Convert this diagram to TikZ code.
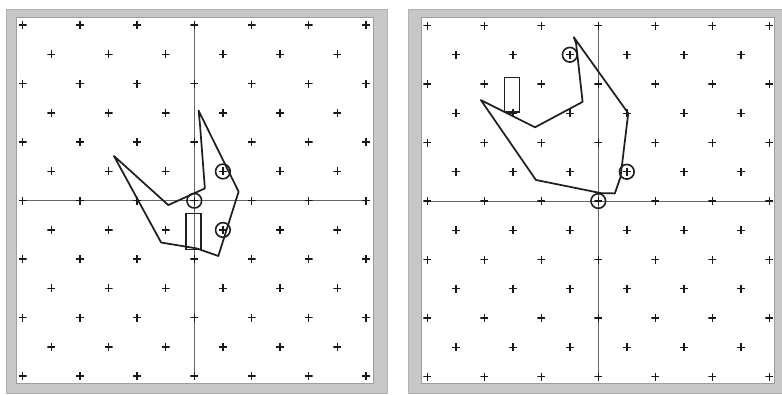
\documentclass[tikz,border=0pt]{standalone}
\usepackage{tikz}
\usetikzlibrary{positioning}

\tikzset{
  panelframe/.style={fill=black!22, draw=black!30, line width=0.4pt},
  panelface/.style={fill=white, draw=black!38, line width=0.4pt},
  axisline/.style={draw=black!60, line width=0.7pt},
  gridcross/.style={inner sep=0pt, minimum size=6pt,
    path picture={\draw[black!90, line width=1.1pt]
      (path picture bounding box.west) -- (path picture bounding box.east)
      (path picture bounding box.north) -- (path picture bounding box.south);}},
  hole/.style={circle, draw=black!88, line width=1.2pt, minimum size=11pt, inner sep=0pt},
  outline/.style={draw=black!88, line width=1.3pt, line join=round},
  piece/.style={draw=black!88, line width=1.1pt}
}

\begin{document}
\begin{tikzpicture}[x=0.75pt,y=0.75pt,yscale=-1,xscale=1]
\path[use as bounding box] (0,0) rectangle (782,394);

%Shape: Frames
\draw[panelframe] (6,9) rectangle (387,393);
\draw[panelface] (16,17) rectangle (373,383);
\draw[panelframe] (408,9) rectangle (782,393);
\draw[panelface] (421,17) rectangle (774,383);

% Left panel
\begin{scope}[shift={(194.3,200.7)}, xscale=28.6, yscale=-29.25]
\draw[axisline] (-6,0) -- (6,0) (0,-6) -- (0,6);
\foreach \j in {-6,-4,...,6}{\foreach \i in {-6,-4,...,6}{\node[gridcross] (lc\i\j) at (\i,\j) {};}}
\foreach \j in {-5,-3,...,5}{\foreach \i in {-5,-3,...,5}{\node[gridcross] (lc\i\j) at (\i,\j) {};}}
%Shape: Polygon
\draw[outline] (0.15,3.08) -- (0.20,2.59) -- (0.37,0.42) -- (-0.91,-0.15) -- (-2.81,1.53)
  -- (-1.16,-1.43) -- (0.08,-1.63) -- (0.84,-1.89) -- (1.55,0.31) -- cycle;
%Shape: Rectangle
\draw[piece] (-0.29,-0.43) rectangle (0.23,-1.67);
% Holes
\node[hole] (lh0) at (0,0) {};
\node[hole] (lh1) at (1,1) {};
\node[hole] (lh2) at (1,-1) {};
\end{scope}

% Right panel
\begin{scope}[shift={(598.3,201)}, xscale=28.5, yscale=-29.25]
\draw[axisline] (-6,0) -- (6,0) (0,-6) -- (0,6);
\foreach \j in {-6,-4,...,6}{\foreach \i in {-6,-4,...,6}{\node[gridcross] (rc\i\j) at (\i,\j) {};}}
\foreach \j in {-5,-3,...,5}{\foreach \i in {-5,-3,...,5}{\node[gridcross] (rc\i\j) at (\i,\j) {};}}
%Shape: Polygon
\draw[outline] (-0.86,5.60) -- (1.05,3.0) -- (0.78,0.82) -- (0.58,0.26) -- (0.09,0.27)
  -- (-2.19,0.72) -- (-4.12,3.45) -- (-2.22,2.52) -- (-0.55,3.39) -- (-0.78,5.39) -- cycle;
%Shape: Rectangle
\draw[piece] (-3.30,4.22) rectangle (-2.76,3.05);
% Holes
\node[hole] (rh0) at (0,0) {};
\node[hole] (rh1) at (1,1) {};
\node[hole] (rh2) at (-1,5) {};
\end{scope}
\end{tikzpicture}
\end{document}
